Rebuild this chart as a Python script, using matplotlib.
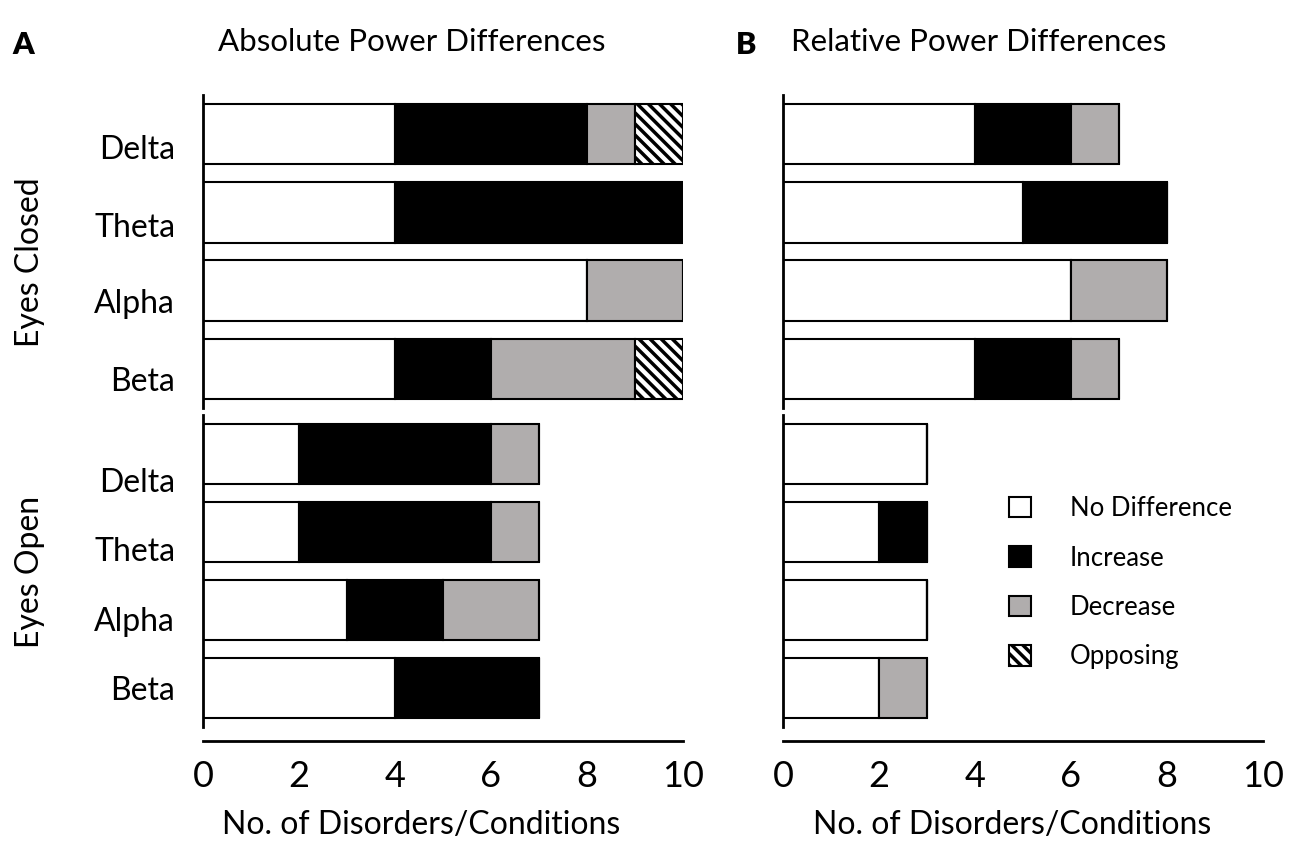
import matplotlib.pyplot as plt
import numpy as np

plt.rcParams['font.family'] = ['Lato', 'DejaVu Sans']
plt.rcParams['hatch.linewidth'] = 2.5

bands = ['Delta', 'Theta', 'Alpha', 'Beta']
categories = ['No Difference', 'Increase', 'Decrease', 'Opposing']
colors = ['white', 'black', '#b0adad', 'white']
hatches = [None, None, None, '\\\\\\']

# absolute power, eyes closed / open  (rows follow categories)
abs_closed = [[4, 4, 8, 4],
              [4, 6, 0, 2],
              [1, 0, 2, 3],
              [1, 0, 0, 1]]
abs_open = [[2, 2, 3, 4],
            [4, 4, 2, 3],
            [1, 1, 2, 0],
            [0, 0, 0, 0]]
# relative power
rel_closed = [[4, 5, 6, 4],
              [2, 3, 0, 2],
              [1, 0, 2, 1],
              [0, 0, 0, 0]]
rel_open = [[3, 2, 3, 2],
            [0, 1, 0, 0],
            [0, 0, 0, 1],
            [0, 0, 0, 0]]

xticks = [0, 2, 4, 6, 8, 10]

# labels in the original sit a bit below the bar centres
label_shift_closed = [0.16, 0.16, 0.13, 0.13]
label_shift_open = [0.33, 0.22, 0.12, 0.0]


def draw_bars(ax, data):
    y = np.arange(len(bands))
    left = np.zeros(len(bands))
    handles = []
    for i, cat in enumerate(categories):
        vals = np.array(data[i], dtype=float)
        h = ax.barh(y, vals, left=left, height=0.77, color=colors[i],
                    edgecolor='black', linewidth=1.5, hatch=hatches[i], label=cat)
        handles.append(h)
        left = left + vals
    ax.set_ylim(3.5, -0.5)
    ax.set_xlim(0, 10)
    for s in ['top', 'right']:
        ax.spines[s].set_visible(False)
    ax.spines['left'].set_linewidth(2)
    return handles


fig = plt.figure(figsize=(13, 8.5), dpi=100)
W = 480 / 1300
panels = [(203, abs_closed, abs_open, 0.454), (783, rel_closed, rel_open, 0.477)]
for col, (left_px, closed, opened, xlab_x) in enumerate(panels):
    ax_c = fig.add_axes([left_px / 1300, 1 - 408 / 850, W, 313 / 850])
    ax_o = fig.add_axes([left_px / 1300, 1 - 727 / 850, W, 312 / 850])
    draw_bars(ax_c, closed)
    handles = draw_bars(ax_o, opened)

    ax_c.spines['bottom'].set_visible(False)
    ax_c.set_xticks([])
    ax_o.spines['bottom'].set_position(('outward', 10))
    ax_o.spines['bottom'].set_linewidth(2)
    ax_o.set_xticks(xticks)
    ax_o.tick_params(axis='x', length=0, pad=14, labelsize=26)
    ax_o.set_xlabel('No. of Disorders/Conditions', fontsize=23, labelpad=8)
    ax_o.xaxis.set_label_coords(xlab_x, -0.265)

    for ax, shift in ((ax_c, label_shift_closed), (ax_o, label_shift_open)):
        if col == 0:
            ax.set_yticks(np.arange(len(bands)) + np.array(shift))
            ax.set_yticklabels(bands, fontsize=23)
            ax.tick_params(axis='y', length=0, pad=20)
        else:
            ax.set_yticks([])

fig.text(412 / 1300, 1 - 42 / 850, 'Absolute Power Differences', fontsize=22.5,
         ha='center', va='center')
fig.text(979 / 1300, 1 - 42 / 850, 'Relative Power Differences', fontsize=22.5,
         ha='center', va='center')
fig.text(12 / 1300, 1 - 45 / 850, 'A', fontsize=22, fontweight='heavy', va='center')
fig.text(736 / 1300, 1 - 45 / 850, 'B', fontsize=22, fontweight='heavy', va='center')
fig.text(30 / 1300, 1 - 262 / 850, 'Eyes Closed', fontsize=23, rotation=90,
         ha='center', va='center')
fig.text(30 / 1300, 1 - 572 / 850, 'Eyes Open', fontsize=23, rotation=90,
         ha='center', va='center')

fig.legend(handles=handles, labels=categories, loc='upper left',
           bbox_to_anchor=(986 / 1300, 1 - 473 / 850), frameon=False,
           fontsize=18.5, handlelength=0.85, handleheight=0.85,
           handletextpad=1.5, labelspacing=0.95)

fig.savefig('out.png', dpi=100)
